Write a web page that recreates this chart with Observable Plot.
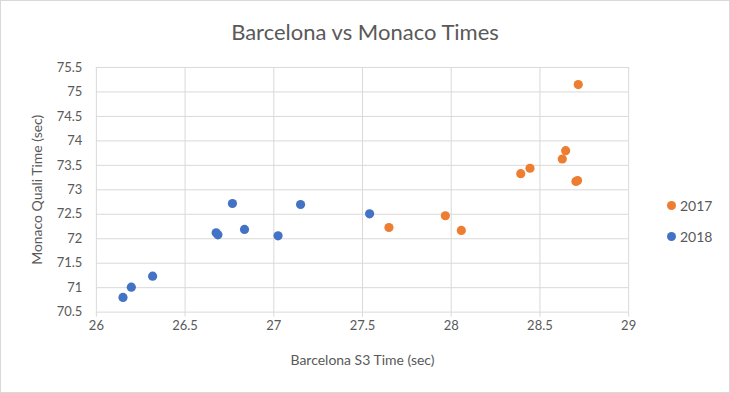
<!DOCTYPE html>
<html><head><meta charset="utf-8">
<script src="https://cdn.jsdelivr.net/npm/d3@7"></script>
<script src="https://cdn.jsdelivr.net/npm/@observablehq/plot@0.6"></script>
<style>
body{margin:0;background:#fff;}
#wrap{position:relative;width:730px;height:393px;box-sizing:border-box;border:1px solid #d9d9d9;font-family:Lato,"Open Sans",sans-serif;overflow:hidden;background:#fff;}
#title{position:absolute;left:-1px;top:-1px;width:730px;height:64px;line-height:64px;text-align:center;font-size:22px;color:#595959;}
#chart{position:absolute;left:-1px;top:51px;}
#legend{position:absolute;left:666px;top:189px;font-size:14px;color:#595959;}
.li{display:flex;align-items:center;height:31px;}
.sw{width:9px;height:9px;border-radius:50%;margin-right:4px;}
</style></head>
<body>
<div id="wrap">
  <div id="title">Barcelona vs Monaco Times</div>
  <div id="chart"></div>
  <div id="legend"></div>
</div>
<script>
const seriesNames = ["2017", "2018"];
const seriesColors = ["#ED7D31", "#4472C4"];
const x2017 = [27.649, 27.967, 28.057, 28.392, 28.444, 28.626, 28.645, 28.703, 28.712, 28.716];
const y2017 = [72.23, 72.47, 72.17, 73.33, 73.44, 73.63, 73.80, 73.17, 73.19, 75.15];
const x2018 = [26.150, 26.197, 26.317, 26.675, 26.685, 26.767, 26.835, 27.024, 27.151, 27.540];
const y2018 = [70.80, 71.01, 71.235, 72.12, 72.08, 72.72, 72.19, 72.06, 72.70, 72.51];
const xTicks = [26, 26.5, 27, 27.5, 28, 28.5, 29];
const yTicks = [70.5, 71, 71.5, 72, 72.5, 73, 73.5, 74, 74.5, 75, 75.5];
const xLabel = "Barcelona S3 Time (sec)";
const yLabel = "Monaco Quali Time (sec)";

const data = [
  ...x2017.map((x, i) => ({x, y: y2017[i], s: "2017"})),
  ...x2018.map((x, i) => ({x, y: y2018[i], s: "2018"}))
];
const fmt = d => String(+d.toFixed(1));

const chart = Plot.plot({
  width: 730, height: 341,
  marginLeft: 96, marginRight: 101, marginTop: 15, marginBottom: 81,
  style: {fontFamily: "Lato, 'Open Sans', sans-serif", fontSize: "13px", color: "#595959", background: "transparent"},
  x: {domain: [26, 29]},
  y: {domain: [70.5, 75.5]},
  color: {domain: seriesNames, range: seriesColors},
  marks: [
    Plot.gridY(yTicks, {stroke: "#d9d9d9", strokeOpacity: 1, strokeWidth: 1}),
    Plot.gridX(xTicks, {stroke: "#d9d9d9", strokeOpacity: 1, strokeWidth: 1}),
    Plot.axisX(xTicks, {tickSize: 5, tickPadding: 4, stroke: "#d9d9d9", tickFormat: fmt, fill: "#595959", fontSize: 13, label: null}),
    Plot.axisY(yTicks, {tickSize: 0, tickPadding: 14, tickFormat: fmt, fill: "#595959", fontSize: 13, label: null}),
    Plot.text([xLabel], {frameAnchor: "bottom", dy: 53, fill: "#595959", fontSize: 14, textAnchor: "middle"}),
    Plot.text([yLabel], {frameAnchor: "left", dx: -59, rotate: -90, fill: "#595959", fontSize: 14, textAnchor: "middle"}),
    Plot.dot(data, {x: "x", y: "y", fill: "s", r: 4.6})
  ]
});
document.getElementById("chart").appendChild(chart);

const leg = document.getElementById("legend");
seriesNames.forEach((n, i) => {
  const d = document.createElement("div");
  d.className = "li";
  d.innerHTML = `<span class="sw" style="background:${seriesColors[i]}"></span><span>${n}</span>`;
  leg.appendChild(d);
});
</script>
</body></html>
